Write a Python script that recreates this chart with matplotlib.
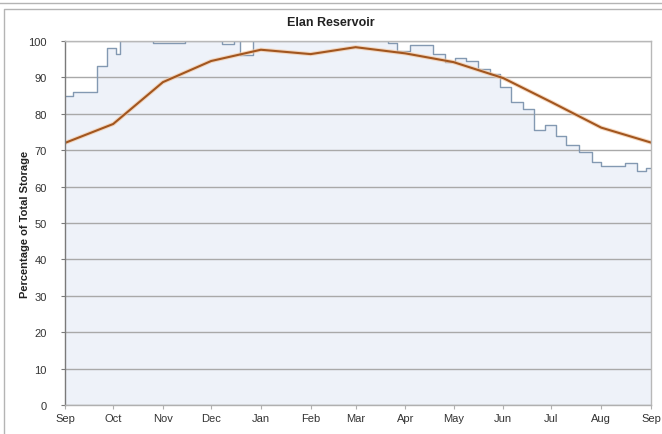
import numpy as np
import matplotlib
matplotlib.use("Agg")
import matplotlib.pyplot as plt
from matplotlib.lines import Line2D

plt.rcParams['font.family'] = ['Liberation Sans', 'DejaVu Sans']

# Month labels along the water year (Sep to Sep) and their day offsets
month_labels = ["Sep", "Oct", "Nov", "Dec", "Jan", "Feb", "Mar",
                "Apr", "May", "Jun", "Jul", "Aug", "Sep"]
month_days = [0, 30, 61, 91, 122, 153, 181, 212, 242, 273, 303, 334, 365]

# Long-term average storage at the start of each month (%)
average_pct = [72.0, 77.2, 88.7, 94.5, 97.6, 96.4, 98.3, 96.6, 94.2,
               89.8, 83.2, 76.2, 72.1]

# Current-year storage readings: day offset where each level starts (%)
current_days = [0, 5, 20, 26, 32, 34, 55, 75, 98, 105, 109, 117, 174, 181,
                201, 207, 215, 229, 237, 243, 250, 257, 265, 271, 278, 285,
                292, 299, 306, 312, 320, 328, 334, 349, 356, 362]
current_pct = [85.0, 85.9, 93.2, 98.2, 96.4, 102.0, 99.4, 102.0, 99.2, 102.0,
               96.2, 102.0, 100.1, 102.0, 99.5, 97.2, 99.0, 96.4, 94.2, 95.3,
               94.6, 92.3, 90.9, 87.3, 83.2, 81.3, 75.6, 76.9, 74.0, 71.4,
               69.4, 66.7, 65.6, 66.5, 64.2, 65.0]

W, H = 662, 435
fig = plt.figure(figsize=(W / 100, H / 100), dpi=100)

# Panel frame
frame_color = "#b4b4b4"
fig.add_artist(Line2D([0, 1], [1 - 4 / H, 1 - 4 / H], color=frame_color, lw=1,
                      transform=fig.transFigure))
fig.add_artist(Line2D([4 / W, 4 / W, 1.0], [0, 1 - 10 / H, 1 - 10 / H],
                      color=frame_color, lw=1, transform=fig.transFigure))

left, right, top, bottom = 65, 651, 42, 406
ax = fig.add_axes([left / W, 1 - bottom / H, (right - left) / W, (bottom - top) / H])

# Step series with the area beneath it shaded
step_x = list(current_days) + [365]
step_y = list(current_pct) + [current_pct[-1]]
ax.fill_between(step_x, step_y, 0, step="post", color="#eef2f9", lw=0, zorder=1)
ax.step(step_x, step_y, where="post", color="#8399b2", lw=1.0, zorder=3)

# Average line with a soft halo
ax.plot(month_days, average_pct, color="#f3c9a6", lw=3.0, alpha=0.7,
        zorder=4, solid_joinstyle="round")
ax.plot(month_days, average_pct, color="#a2561f", lw=1.5, zorder=5,
        solid_joinstyle="round")

ax.set_xlim(0, 365)
ax.set_ylim(0, 100)
ax.set_yticks(np.arange(0, 101, 10))
ax.set_xticks(month_days)
ax.set_xticklabels(month_labels)

ax.yaxis.grid(True, color="#a9a9a9", lw=1.0, zorder=2)
ax.set_axisbelow(False)
for gl in ax.get_ygridlines():
    gl.set_zorder(2)

for side in ["top", "right"]:
    ax.spines[side].set_color("#b8b8b8")
    ax.spines[side].set_linewidth(1.0)
ax.spines["left"].set_color("#7a7a7a")
ax.spines["bottom"].set_color("#b0b0b0")
ax.spines["left"].set_linewidth(1.0)
ax.spines["bottom"].set_linewidth(1.0)
for s in ax.spines.values():
    s.set_zorder(6)

ax.tick_params(axis="both", labelsize=8, colors="#333333", length=3, width=0.8)
ax.tick_params(axis="x", color="#b0b0b0", pad=3)
ax.tick_params(axis="y", color="#7a7a7a", pad=10)

fig.text(0.5, 1 - 23 / H, "Elan Reservoir", fontsize=9, fontweight="bold",
         color="#222222", ha="center", va="center")
ax.set_ylabel("Percentage of Total Storage", fontsize=8, fontweight="bold",
              color="#222222")
ax.yaxis.set_label_coords(-0.06, 0.5)

fig.savefig("out.png", dpi=100)
